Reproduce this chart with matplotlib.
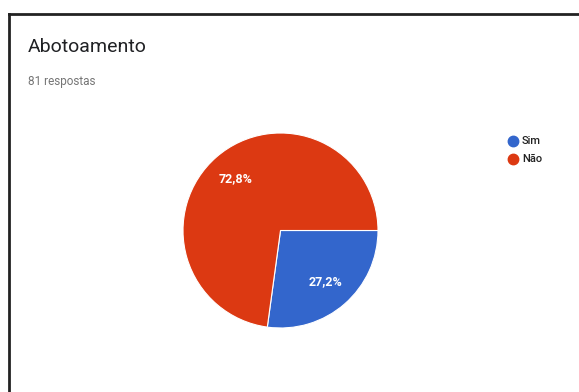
import matplotlib
matplotlib.use("Agg")
import matplotlib.pyplot as plt
from matplotlib.lines import Line2D

categories = ["Sim", "Não"]
counts = [22, 59]
colors = ["#3366CC", "#DC3912"]
title = "Abotoamento"
subtitle = "81 respostas"

plt.rcParams['font.family'] = ['Roboto', 'DejaVu Sans']

W, H = 579, 392
fig = plt.figure(figsize=(W / 100, H / 100), dpi=100)
fig.patch.set_facecolor("white")

# border (top and left lines)
fig.add_artist(Line2D([9 / W, 1], [1 - 14 / H, 1 - 14 / H], color="#222222", lw=2, transform=fig.transFigure))
fig.add_artist(Line2D([9 / W, 9 / W], [0, 1 - 14 / H], color="#222222", lw=2, transform=fig.transFigure))

fig.text(28 / W, 1 - 47 / H, title, fontsize=14, color="#202124", va="center", ha="left")
fig.text(28 / W, 1 - 81 / H, subtitle, fontsize=8.5, color="#757575", va="center", ha="left")

cx, cy, r = 280.5, 392 - 230.5, 97.5
ax = fig.add_axes([(cx - r) / W, (cy - r) / H, 2 * r / W, 2 * r / H])
wedges, texts, autotexts = ax.pie(
    counts, colors=colors, startangle=0, counterclock=False, radius=1,
    autopct=lambda p: f"{p:.1f}%".replace(".", ","), pctdistance=0.7,
    wedgeprops=dict(edgecolor="white", linewidth=0.8),
    textprops=dict(color="white", fontsize=9, fontweight="bold"))
ax.set_xlim(-1, 1)
ax.set_ylim(-1, 1)
ax.set_aspect("auto")
ax.axis("off")

# legend
for i, (lab, col) in enumerate(zip(categories, colors)):
    y = 1 - (141 + 18 * i) / H
    fig.add_artist(Line2D([513 / W], [y], marker="o", markersize=7.5, color=col, linestyle="none", transform=fig.transFigure))
    fig.text(522 / W, y, lab, fontsize=8, color="#222222", va="center", ha="left", fontweight="medium")

fig.savefig("out.png", dpi=100)
